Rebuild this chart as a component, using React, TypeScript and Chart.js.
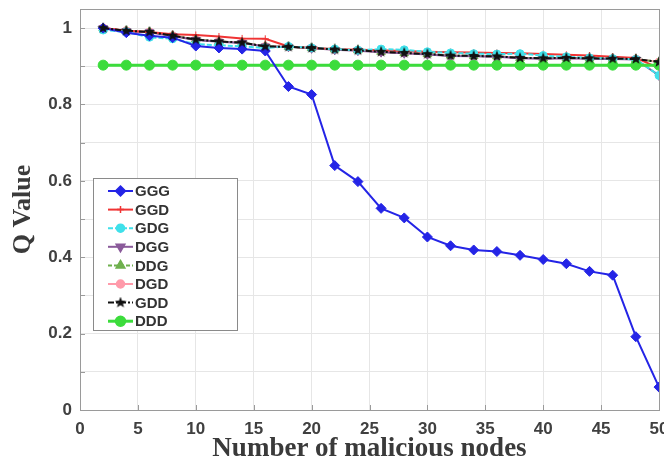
import React, { useEffect, useRef } from "react";
import { Chart, registerables } from "chart.js";

Chart.register(...registerables);

const xNodes = [2, 4, 6, 8, 10, 12, 14, 16, 18, 20, 22, 24, 26, 28, 30, 32, 34, 36, 38, 40, 42, 44, 46, 48, 50];

const seriesNames = ["GGG", "GGD", "GDG", "DGG", "DDG", "DGD", "GDD", "DDD"];

const GGG = [1.0, 0.988, 0.98, 0.975, 0.953, 0.948, 0.945, 0.94, 0.847, 0.826, 0.64, 0.598, 0.528, 0.503, 0.453, 0.43, 0.419, 0.415, 0.405, 0.394, 0.383, 0.363, 0.353, 0.192, 0.06];
const GGD = [1.0, 0.993, 0.99, 0.984, 0.982, 0.978, 0.973, 0.972, 0.952, 0.948, 0.945, 0.943, 0.942, 0.94, 0.938, 0.937, 0.936, 0.935, 0.934, 0.932, 0.93, 0.928, 0.925, 0.922, 0.895];
const GDG = [0.995, 0.99, 0.976, 0.972, 0.958, 0.955, 0.952, 0.948, 0.952, 0.948, 0.945, 0.942, 0.945, 0.943, 0.938, 0.935, 0.933, 0.932, 0.933, 0.928, 0.925, 0.922, 0.92, 0.918, 0.876];
const DGG = [1.0, 0.992, 0.989, 0.979, 0.969, 0.964, 0.961, 0.952, 0.951, 0.947, 0.943, 0.941, 0.937, 0.934, 0.931, 0.927, 0.926, 0.925, 0.921, 0.92, 0.921, 0.92, 0.919, 0.918, 0.876];
const DDG = [1.0, 0.993, 0.99, 0.98, 0.97, 0.965, 0.962, 0.952, 0.951, 0.948, 0.944, 0.942, 0.938, 0.935, 0.932, 0.928, 0.927, 0.926, 0.922, 0.921, 0.922, 0.921, 0.92, 0.919, 0.911];
const DGD = [1.0, 0.993, 0.99, 0.98, 0.97, 0.965, 0.962, 0.952, 0.951, 0.948, 0.944, 0.942, 0.938, 0.935, 0.932, 0.928, 0.927, 0.926, 0.922, 0.921, 0.922, 0.921, 0.92, 0.919, 0.911];
const GDD = [1.0, 0.993, 0.99, 0.98, 0.97, 0.965, 0.962, 0.952, 0.951, 0.948, 0.944, 0.942, 0.938, 0.935, 0.932, 0.928, 0.927, 0.926, 0.922, 0.921, 0.922, 0.921, 0.92, 0.919, 0.911];
const DDD = [0.903, 0.903, 0.903, 0.903, 0.903, 0.903, 0.903, 0.903, 0.903, 0.903, 0.903, 0.903, 0.903, 0.903, 0.903, 0.903, 0.903, 0.903, 0.903, 0.903, 0.903, 0.903, 0.903, 0.903, 0.903];

const yGridValues = [0, 0.1, 0.2, 0.3, 0.4, 0.5, 0.6, 0.7, 0.8, 0.9, 1.0];
const yLabelValues = [0, 0.2, 0.4, 0.6, 0.8, 1.0];

const xTitle = "Number of malicious nodes";
const yTitle = "Q Value";

function makeStar(color: string, size: number): HTMLCanvasElement {
  const c = document.createElement("canvas");
  c.width = size;
  c.height = size;
  const ctx = c.getContext("2d")!;
  const cx = size / 2, cy = size / 2;
  const R = size / 2, r = R * 0.42;
  ctx.beginPath();
  for (let i = 0; i < 10; i++) {
    const rad = (Math.PI / 5) * i - Math.PI / 2;
    const rr = i % 2 === 0 ? R : r;
    const px = cx + Math.cos(rad) * rr;
    const py = cy + Math.sin(rad) * rr;
    if (i === 0) ctx.moveTo(px, py);
    else ctx.lineTo(px, py);
  }
  ctx.closePath();
  ctx.fillStyle = color;
  ctx.fill();
  return c;
}

function drawMarker(ctx: CanvasRenderingContext2D, style: any, x: number, y: number, r: number, rot: number, fill: string, stroke: string) {
  ctx.save();
  ctx.translate(x, y);
  ctx.rotate((rot * Math.PI) / 180);
  ctx.fillStyle = fill;
  ctx.strokeStyle = stroke;
  ctx.lineWidth = 1.5;
  ctx.setLineDash([]);
  if (style instanceof HTMLCanvasElement) {
    ctx.drawImage(style, -style.width / 2, -style.height / 2);
  } else if (style === "rectRot") {
    ctx.beginPath();
    ctx.moveTo(0, -r); ctx.lineTo(r, 0); ctx.lineTo(0, r); ctx.lineTo(-r, 0); ctx.closePath();
    ctx.fill(); ctx.stroke();
  } else if (style === "triangle") {
    ctx.beginPath();
    ctx.moveTo(0, -r); ctx.lineTo(r * 0.87, r * 0.5); ctx.lineTo(-r * 0.87, r * 0.5); ctx.closePath();
    ctx.fill(); ctx.stroke();
  } else if (style === "cross") {
    ctx.beginPath();
    ctx.moveTo(-r, 0); ctx.lineTo(r, 0); ctx.moveTo(0, -r); ctx.lineTo(0, r);
    ctx.stroke();
  } else {
    ctx.beginPath();
    ctx.arc(0, 0, r, 0, Math.PI * 2);
    ctx.fill(); ctx.stroke();
  }
  ctx.restore();
}

export default function App() {
  const ref = useRef<HTMLCanvasElement | null>(null);

  useEffect(() => {
    if (!ref.current) return;
    const pts = (arr: number[]) => xNodes.map((x, i) => ({ x, y: arr[i] }));
    const star = makeStar("#111111", 12);

    const specs = [
      { data: GGG, color: "#2424e6", width: 2, dash: [] as number[], style: "rectRot", r: 5, rot: 0, order: 1 },
      { data: GGD, color: "#f03434", width: 2, dash: [], style: "cross", r: 3.5, rot: 0, order: 5 },
      { data: GDG, color: "#3fe0ea", width: 2, dash: [5, 2], style: "circle", r: 4, rot: 0, order: 4 },
      { data: DGG, color: "#8a5a9a", width: 2, dash: [], style: "triangle", r: 5, rot: 180, order: 6 },
      { data: DDG, color: "#6fb04e", width: 2, dash: [4, 2], style: "triangle", r: 5, rot: 0, order: 7 },
      { data: DGD, color: "#ff9aaa", width: 2, dash: [], style: "circle", r: 4, rot: 0, order: 8 },
      { data: GDD, color: "#111111", width: 2, dash: [6, 2, 2, 2], style: star as any, r: 6, rot: 0, order: 0 },
      { data: DDD, color: "#3cdc3c", width: 3, dash: [], style: "circle", r: 5, rot: 0, order: 2 },
    ];

    const datasets = specs.map((s, i) => ({
      label: seriesNames[i],
      data: pts(s.data),
      borderColor: s.color,
      backgroundColor: s.color,
      borderWidth: s.width,
      borderDash: s.dash,
      pointStyle: s.style,
      pointRadius: s.r,
      pointRotation: s.rot,
      pointBorderColor: s.color,
      pointBackgroundColor: s.color,
      pointBorderWidth: 1,
      tension: 0,
      order: s.order,
    }));

    const frame = {
      id: "frame",
      afterDatasetsDraw(chart: any) {
        const { ctx, chartArea } = chart;
        const { left, right, top, bottom } = chartArea;
        ctx.save();
        ctx.strokeStyle = "#9a9a9a";
        ctx.lineWidth = 1;
        ctx.setLineDash([]);
        ctx.strokeRect(left + 0.5, top + 0.5, right - left, bottom - top);
        const ys = chart.scales.y;
        ys.ticks.forEach((t: any) => {
          const py = Math.round(ys.getPixelForValue(t.value)) + 0.5;
          ctx.beginPath(); ctx.moveTo(left, py); ctx.lineTo(left + 5, py); ctx.stroke();
        });
        const xs = chart.scales.x;
        xs.ticks.forEach((t: any) => {
          const px = Math.round(xs.getPixelForValue(t.value)) + 0.5;
          ctx.beginPath(); ctx.moveTo(px, bottom); ctx.lineTo(px, bottom - 5); ctx.stroke();
        });
        // legend
        const bx = left + 13, by = top + 169, bw = 144, bh = 152;
        ctx.fillStyle = "#ffffff";
        ctx.fillRect(bx, by, bw, bh);
        ctx.strokeStyle = "#8a8a8a";
        ctx.strokeRect(bx + 0.5, by + 0.5, bw, bh);
        ctx.font = "bold 15px 'Liberation Sans', Arial, sans-serif";
        ctx.textBaseline = "middle";
        ctx.textAlign = "left";
        specs.forEach((s, i) => {
          const cy = by + 13 + i * 18.6;
          ctx.save();
          ctx.strokeStyle = s.color;
          ctx.lineWidth = s.width;
          ctx.setLineDash(s.dash);
          ctx.beginPath(); ctx.moveTo(bx + 15, cy); ctx.lineTo(bx + 40, cy); ctx.stroke();
          ctx.restore();
          drawMarker(ctx, s.style, bx + 27.5, cy, s.r, s.rot, s.color, s.color);
          ctx.fillStyle = "#333333";
          ctx.fillText(seriesNames[i], bx + 42, cy + 1);
        });
        ctx.restore();
      },
    };

    const chart = new Chart(ref.current, {
      type: "line",
      data: { datasets: datasets as any },
      options: {
        animation: false,
        responsive: false,
        layout: { padding: { left: 0, right: 41, top: 9, bottom: 0 } },
        plugins: { legend: { display: false }, tooltip: { enabled: false } },
        scales: {
          x: {
            type: "linear",
            min: 0,
            max: 50,
            ticks: {
              stepSize: 5,
              padding: 9,
              color: "#404040",
              font: { family: "'Liberation Sans', Arial, sans-serif", size: 17, weight: "bold" },
            },
            grid: { color: "#e6e6e6", drawTicks: false },
            border: { display: true, color: "#9a9a9a" },
            title: {
              display: true,
              text: xTitle,
              color: "#3a3a3a",
              padding: { top: 0, bottom: 0 },
              font: { family: "'Liberation Serif', 'Times New Roman', serif", size: 27, weight: "bold", lineHeight: 0.85 },
            },
            afterFit: (s: any) => { s.height = 51; s.paddingLeft = 0; s.paddingRight = 0; },
          },
          y: {
            min: 0,
            max: 1.05,
            afterBuildTicks: (s: any) => { s.ticks = yGridValues.map((v) => ({ value: v })); },
            ticks: {
              padding: 8,
              color: "#404040",
              font: { family: "'Liberation Sans', Arial, sans-serif", size: 17, weight: "bold" },
              callback: (v: any) => {
                const n = Number(v);
                const hit = yLabelValues.find((l) => Math.abs(l - n) < 1e-6);
                return hit === undefined ? "" : String(hit);
              },
            },
            grid: { color: "#e6e6e6", drawTicks: false },
            border: { display: true, color: "#9a9a9a" },
            title: {
              display: true,
              text: yTitle,
              color: "#3a3a3a",
              padding: { top: 10, bottom: 0 },
              font: { family: "'Liberation Serif', 'Times New Roman', serif", size: 26, weight: "bold", lineHeight: 1 },
            },
            afterFit: (s: any) => { s.width = 80; s.paddingTop = 0; s.paddingBottom = 0; },
          },
        },
      },
      plugins: [frame],
    });
    return () => chart.destroy();
  }, []);

  return (
    <div style={{ position: "fixed", left: 0, top: 0, width: 664, height: 461, overflow: "hidden", background: "#fff" }}>
      <canvas ref={ref} width={700} height={461} style={{ display: "block", width: 700, height: 461 }} />
    </div>
  );
}
